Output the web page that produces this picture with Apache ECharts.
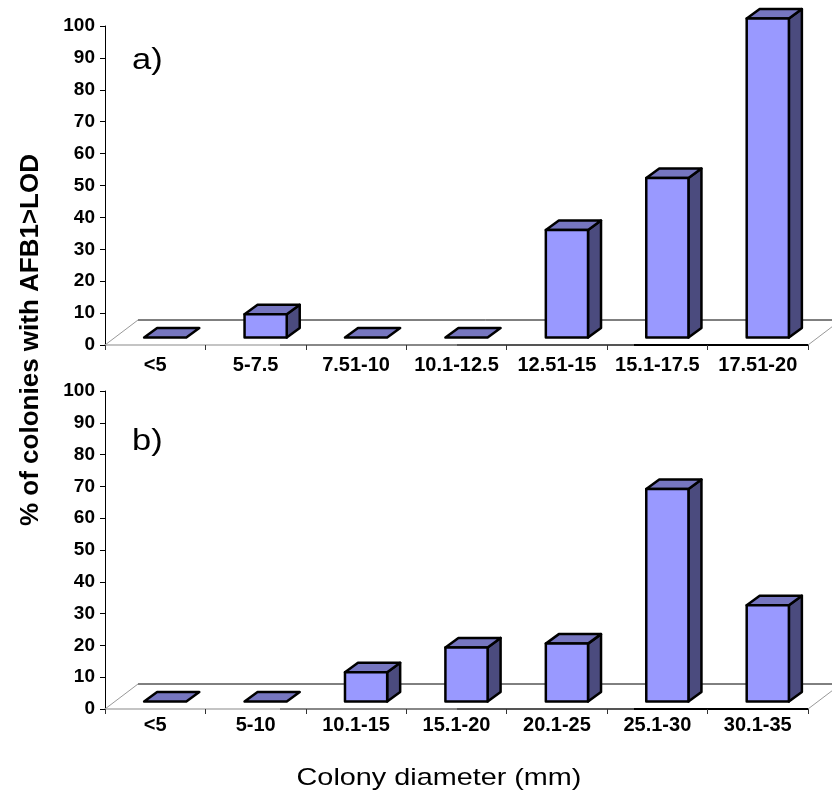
<!DOCTYPE html>
<html>
<head>
<meta charset="utf-8">
<script src="https://cdn.jsdelivr.net/npm/echarts@6/dist/echarts.min.js"></script>
<style>
  html, body { margin: 0; padding: 0; background: #fff; }
  #chart { width: 832px; height: 800px; }
</style>
</head>
<body>
<div id="chart"></div>
<script>
// panel a) data
const catA = ['<5', '5-7.5', '7.51-10', '10.1-12.5', '12.51-15', '15.1-17.5', '17.51-20'];
const valA = [0, 7.3, 0, 0, 33.7, 50, 100];
// panel b) data
const catB = ['<5', '5-10', '10.1-15', '15.1-20', '20.1-25', '25.1-30', '30.1-35'];
const valB = [0, 0, 9.2, 17, 18.2, 66.8, 30.3];

const FONT = 'Liberation Sans, Arial, sans-serif';
const FRONT = '#9999ff', TOP = '#7676c0', SIDE = '#4b4b7e';

// 3D bar look: front face pushed back a bit into the floor, plus top + side faces
function bar3d(params, api) {
  const idx = api.value(0);
  const v = api.value(1);
  const base = api.coord([idx, 0]);
  const top = api.coord([idx, v]);
  const w = api.size([1, 0])[0] * 0.42;
  const dx = 13, dy = -9.5;
  const x0 = base[0] + 10 - w / 2, x1 = x0 + w;
  const yb = base[1] - 7.5, yt = top[1] - 7.5;
  const st = { stroke: '#000', lineWidth: 2.5, lineJoin: 'round' };
  const children = [];
  if (v > 0) {
    children.push({
      type: 'polygon',
      shape: { points: [[x1, yt], [x1 + dx, yt + dy], [x1 + dx, yb + dy], [x1, yb]] },
      style: Object.assign({ fill: SIDE }, st)
    });
  }
  children.push({
    type: 'polygon',
    shape: { points: [[x0, yt], [x1, yt], [x1 + dx, yt + dy], [x0 + dx, yt + dy]] },
    style: Object.assign({ fill: TOP }, st)
  });
  if (v > 0) {
    children.push({
      type: 'rect',
      shape: { x: x0, y: yt, width: w, height: yb - yt },
      style: Object.assign({ fill: FRONT }, st)
    });
  }
  return { type: 'group', children: children };
}

// floor outline of the 3D plot area
function floor(params, api) {
  const cs = params.coordSys;
  const xl = cs.x, xr = cs.x + cs.width, yf = cs.y + cs.height;
  const fx = 33, fy = -25;
  return {
    type: 'group',
    children: [
      { type: 'line', shape: { x1: xl, y1: yf, x2: xl + fx, y2: yf + fy }, style: { stroke: '#999', lineWidth: 1 } },
      { type: 'line', shape: { x1: xl + fx, y1: yf + fy, x2: xr + fx, y2: yf + fy }, style: { stroke: '#000', lineWidth: 1 } },
      { type: 'line', shape: { x1: xr, y1: yf, x2: xr + fx, y2: yf + fy }, style: { stroke: '#999', lineWidth: 1 } }
    ]
  };
}

const axisGrad = new echarts.graphic.LinearGradient(0, 0, 1, 0, [
  { offset: 0, color: '#c4c4c4' }, { offset: 0.25, color: '#c4c4c4' },
  { offset: 0.251, color: '#888' }, { offset: 0.5, color: '#888' },
  { offset: 0.501, color: '#555' }, { offset: 0.75, color: '#555' },
  { offset: 0.751, color: '#000' }, { offset: 1, color: '#000' }
]);

function xAxisOf(cats, gi, margin) {
  return {
    type: 'category',
    gridIndex: gi,
    data: cats,
    axisLine: { lineStyle: { color: axisGrad, width: 2 } },
    axisTick: { show: true, length: 5, lineStyle: { color: '#333' } },
    axisLabel: { color: '#000', fontFamily: FONT, fontWeight: 'bold', fontSize: 20, margin: margin, interval: 0 }
  };
}

function yAxisOf(gi) {
  return {
    type: 'value',
    gridIndex: gi,
    min: 0,
    max: 100,
    interval: 10,
    axisLine: { show: true, lineStyle: { color: '#000', width: 1 } },
    axisTick: { show: true, length: 5, lineStyle: { color: '#000' } },
    splitLine: { show: false },
    axisLabel: { color: '#000', fontFamily: FONT, fontWeight: 'bold', fontSize: 19, margin: 10 }
  };
}

const chart = echarts.init(document.getElementById('chart'));
chart.setOption({
  animation: false,
  backgroundColor: '#fff',
  grid: [
    { left: 105, top: 26, width: 703, height: 319 },
    { left: 105, top: 391, width: 703, height: 318 }
  ],
  xAxis: [xAxisOf(catA, 0, 10), xAxisOf(catB, 1, 6)],
  yAxis: [yAxisOf(0), yAxisOf(1)],
  graphic: [
    { type: 'text', x: 132, y: 61, scaleX: 1.15,
      style: { text: 'a)', font: '30px ' + FONT, fill: '#000', align: 'left', verticalAlign: 'middle' } },
    { type: 'text', x: 132, y: 442, scaleX: 1.15,
      style: { text: 'b)', font: '30px ' + FONT, fill: '#000', align: 'left', verticalAlign: 'middle' } },
    { type: 'text', x: 31, y: 340, rotation: Math.PI / 2,
      style: { text: '% of colonies with AFB1>LOD', font: 'bold 26px ' + FONT, fill: '#000', align: 'center', verticalAlign: 'middle' } },
    { type: 'text', x: 439, y: 778, scaleX: 1.2,
      style: { text: 'Colony diameter (mm)', font: '24px ' + FONT, fill: '#000', align: 'center', verticalAlign: 'middle' } }
  ],
  series: [
    { type: 'custom', xAxisIndex: 0, yAxisIndex: 0, renderItem: floor, data: [[0, 0]], z: 1, silent: true },
    { type: 'custom', xAxisIndex: 1, yAxisIndex: 1, renderItem: floor, data: [[0, 0]], z: 1, silent: true },
    { type: 'custom', name: 'a', xAxisIndex: 0, yAxisIndex: 0, renderItem: bar3d, z: 3,
      data: valA.map((v, i) => [i, v]) },
    { type: 'custom', name: 'b', xAxisIndex: 1, yAxisIndex: 1, renderItem: bar3d, z: 3,
      data: valB.map((v, i) => [i, v]) }
  ]
});
</script>
</body>
</html>
